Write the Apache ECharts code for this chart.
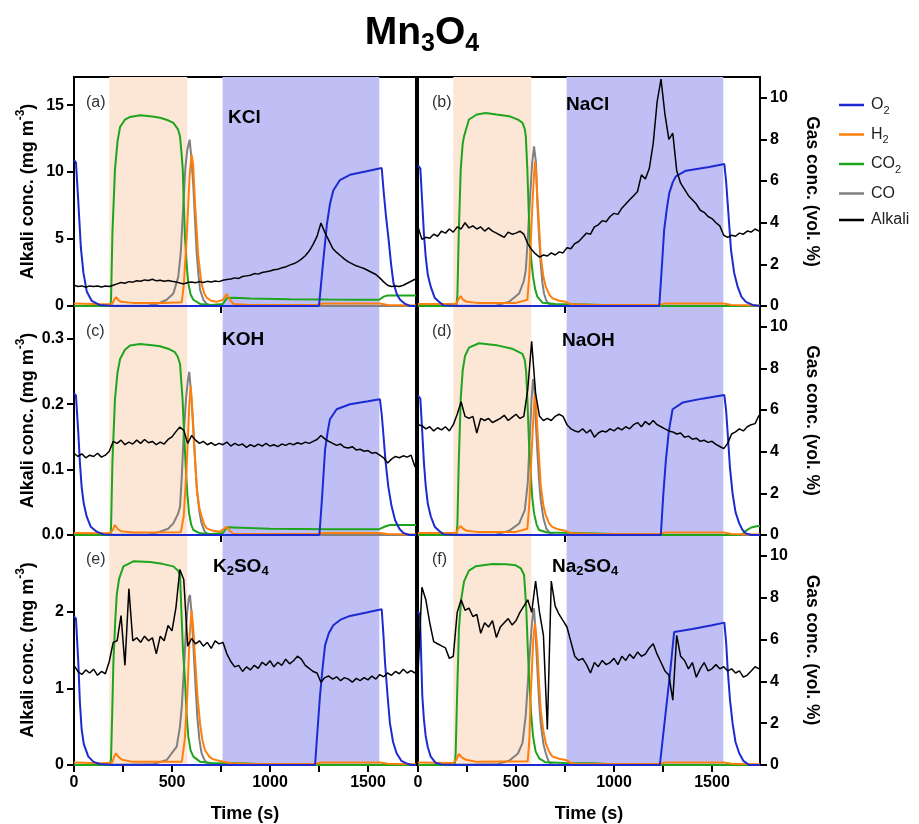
<!DOCTYPE html>
<html>
<head>
<meta charset="utf-8">
<script src="https://cdn.jsdelivr.net/npm/echarts@6/dist/echarts.min.js"></script>
<style>
html, body { margin: 0; padding: 0; background: #fff; }
#chart { width: 919px; height: 824px; }
</style>
</head>
<body>
<div id="chart"></div>
<script>
// ---- data ----
// phases (s)
const reducingPhase = [180, 578];
const oxidizingPhase = [758, 1558];

// alkali signal, one value every STEP seconds from t = 0
const STEP = 20;
const alkA = [1.55,1.45,1.5,1.4,1.5,1.45,1.5,1.42,1.5,1.45,
  1.55,1.65,1.75,1.7,1.82,1.78,1.88,1.85,1.95,1.9,
  2.0,1.88,1.92,1.85,1.9,1.84,1.8,1.72,1.65,1.75,
  1.8,1.74,1.82,1.76,1.84,1.8,1.86,1.82,1.92,1.98,
  2.02,2.1,2.06,2.2,2.25,2.3,2.42,2.38,2.5,2.55,
  2.62,2.7,2.74,2.85,2.92,3.05,3.15,3.3,3.5,3.75,
  4.1,4.6,5.2,6.2,5.5,4.9,4.3,4.0,3.75,3.5,
  3.3,3.15,3.0,2.9,2.8,2.65,2.5,2.35,2.1,1.8,
  1.55,1.45,1.5,1.45,1.55,1.7,1.85,2.0];
const alkB = [3.8,3.2,3.3,3.25,3.45,3.35,3.6,3.5,3.7,3.55,
  3.8,3.7,4.0,3.75,3.85,3.7,3.8,3.6,3.75,3.6,
  3.5,3.4,3.3,3.55,3.45,3.5,3.6,3.45,3.0,2.7,
  2.5,2.35,2.45,2.4,2.55,2.45,2.6,2.55,2.8,2.75,
  3.0,3.1,3.3,3.5,3.45,3.8,3.9,4.1,4.05,4.3,
  4.45,4.4,4.7,4.9,5.1,5.3,5.5,6.3,6.1,6.6,
  7.8,9.8,10.9,9.2,8.0,8.3,6.5,5.9,5.6,5.3,
  5.1,4.9,4.6,4.5,4.3,4.2,4.0,3.85,3.4,3.3,
  3.4,3.35,3.5,3.45,3.6,3.55,3.7,3.6];
const alkC = [0.125,0.12,0.124,0.118,0.122,0.12,0.125,0.119,0.122,0.128,
  0.143,0.14,0.145,0.138,0.142,0.139,0.145,0.14,0.146,0.141,
  0.143,0.138,0.142,0.139,0.146,0.15,0.158,0.165,0.16,0.14,
  0.152,0.145,0.14,0.143,0.138,0.141,0.137,0.14,0.138,0.142,
  0.136,0.14,0.137,0.139,0.134,0.138,0.135,0.139,0.136,0.14,
  0.136,0.138,0.135,0.139,0.137,0.14,0.138,0.141,0.139,0.142,
  0.14,0.143,0.146,0.152,0.147,0.143,0.14,0.137,0.139,0.134,
  0.133,0.135,0.13,0.131,0.128,0.129,0.125,0.126,0.122,0.118,
  0.11,0.116,0.12,0.118,0.121,0.119,0.122,0.104];
const alkD = [5.3,5.25,5.1,5.2,5.0,5.15,5.05,5.2,5.0,5.3,
  5.8,6.4,5.7,5.6,5.7,4.9,5.6,5.5,5.6,5.4,
  5.5,5.6,5.75,5.5,5.65,5.8,5.6,5.7,7.0,9.3,
  6.8,5.7,5.5,5.6,5.5,5.7,5.8,5.7,5.3,5.1,
  5.0,4.95,5.1,4.9,5.05,4.7,4.9,5.0,4.95,5.1,
  5.0,5.15,5.05,5.2,5.1,5.3,5.4,5.2,5.45,5.3,
  5.5,5.3,5.2,5.1,5.0,4.95,4.85,4.9,4.7,4.75,
  4.6,4.65,4.5,4.55,4.45,4.5,4.35,4.25,4.15,4.4,
  4.85,4.95,5.1,5.0,5.2,5.3,5.35,5.75];
const alkE = [1.3,1.22,1.18,1.24,1.2,1.25,1.17,1.22,1.19,1.35,
  1.6,1.62,1.95,1.3,2.3,1.62,1.66,1.6,1.68,1.62,
  1.66,1.45,1.68,1.62,1.82,1.75,2.05,2.55,2.42,1.55,
  1.65,1.58,1.62,1.55,1.6,1.52,1.62,1.58,1.6,1.45,
  1.35,1.28,1.3,1.22,1.28,1.24,1.3,1.26,1.34,1.3,
  1.36,1.28,1.34,1.3,1.38,1.32,1.36,1.42,1.38,1.3,
  1.26,1.22,1.2,1.08,1.14,1.16,1.12,1.15,1.1,1.14,
  1.12,1.08,1.13,1.1,1.14,1.11,1.16,1.12,1.18,1.15,
  1.2,1.17,1.22,1.19,1.25,1.2,1.23,1.2];
const alkF = [4.4,8.5,7.9,6.8,5.9,5.8,5.7,5.6,5.1,5.2,
  7.3,7.9,7.4,7.5,7.1,7.2,6.3,6.8,6.6,6.9,
  6.1,6.6,6.8,7.0,6.7,6.9,7.3,7.6,7.9,7.3,
  8.8,7.3,6.2,1.7,8.8,7.6,7.2,6.9,6.6,5.9,
  5.2,5.0,5.1,4.8,4.4,4.9,4.7,5.0,4.8,4.9,
  5.1,4.8,5.2,5.0,5.3,5.1,5.4,5.2,5.3,5.6,
  5.8,5.3,4.9,4.5,4.3,3.1,6.2,5.2,5.0,4.6,
  4.9,4.2,4.6,4.9,4.5,4.6,4.8,4.6,4.7,4.5,
  4.6,4.4,4.5,4.2,4.3,4.5,4.7,4.6];

// gas concentrations (vol. %), [time s, value]
const o2A = [[0,7.0],[10,6.9],[22,5.0],[35,2.8],[48,1.6],[65,0.7],[90,0.25],[130,0.05],[200,0],[1250,0],[1270,2.0],[1290,3.9],[1306,4.9],[1323,5.55],[1357,6.05],[1408,6.3],[1493,6.47],[1570,6.63],[1580,5.5],[1592,4.3],[1604,3.3],[1618,2.0],[1630,1.1],[1648,0.55],[1664,0.3],[1690,0.1],[1715,0],[1745,0]];
const h2A = [[0,0.12],[150,0.08],[195,0.1],[205,0.3],[214,0.42],[225,0.3],[240,0.2],[300,0.15],[450,0.14],[550,0.18],[560,1.0],[575,3.3],[590,6.3],[600,7.27],[608,6.8],[617,5.0],[634,2.4],[650,1.1],[665,0.6],[677,0.4],[700,0.25],[728,0.2],[760,0.3],[779,0.58],[795,0.3],[813,0.1],[900,0.05],[1240,0.05],[1270,0.12],[1560,0.12],[1600,0.05],[1745,0.03]];
const co2A = [[0,0],[185,0],[189,0.3],[196,3.5],[209,6.55],[222,7.9],[235,8.6],[260,8.95],[286,9.08],[337,9.16],[400,9.1],[439,9.04],[480,8.92],[507,8.8],[530,8.5],[541,8.15],[548,7.4],[555,6.55],[560,5.0],[566,3.34],[575,2.0],[583,1.1],[595,0.55],[609,0.3],[643,0.1],[700,0.05],[760,0.1],[780,0.38],[820,0.4],[900,0.36],[1100,0.33],[1300,0.31],[1450,0.3],[1557,0.3],[1580,0.45],[1600,0.5],[1745,0.5]];
const coA = [[0,0],[380,0.02],[430,0.12],[473,0.3],[507,0.6],[532,1.4],[545,2.6],[558,4.9],[568,6.6],[578,7.5],[590,7.99],[598,7.2],[609,5.74],[618,4.0],[626,2.55],[635,1.5],[643,0.78],[660,0.3],[677,0.1],[700,0],[1745,0]];

const o2B = [[0,6.76],[12,6.6],[22,4.9],[30,3.5],[39,2.4],[50,1.5],[65,0.93],[85,0.4],[107,0.2],[130,0.03],[200,0],[1231,0],[1245,2.0],[1256,3.66],[1270,4.7],[1282,5.42],[1300,5.95],[1316,6.23],[1367,6.5],[1486,6.68],[1563,6.82],[1572,6.0],[1580,4.94],[1597,2.7],[1613,1.6],[1631,0.93],[1650,0.45],[1673,0.2],[1707,0.05],[1745,0]];
const h2B = [[0,0.1],[195,0.1],[205,0.3],[218,0.48],[230,0.3],[250,0.2],[300,0.15],[500,0.15],[558,0.3],[568,1.5],[576,3.2],[584,4.94],[592,6.3],[597,6.95],[603,6.4],[609,5.26],[618,3.8],[626,2.38],[640,1.4],[652,0.93],[670,0.55],[686,0.37],[720,0.25],[754,0.2],[780,0.08],[900,0.05],[1230,0.05],[1260,0.12],[1560,0.12],[1600,0.05],[1745,0.03]];
const co2B = [[0,0],[196,0],[201,0.5],[208,3.5],[218,6.55],[228,7.8],[235,8.15],[260,8.96],[300,9.2],[346,9.27],[400,9.2],[465,9.12],[510,8.95],[533,8.8],[545,8.5],[550,8.15],[558,6.55],[564,4.8],[570,3.34],[578,2.2],[587,1.41],[598,0.8],[609,0.45],[635,0.16],[700,0.1],[800,0.08],[950,0.05],[1000,0],[1745,0]];
const coB = [[0,0],[400,0.03],[465,0.2],[516,0.6],[540,1.2],[550,1.73],[560,3.2],[570,4.94],[582,6.8],[592,7.67],[596,7.75],[602,6.9],[609,4.94],[618,3.3],[626,2.05],[635,1.1],[643,0.6],[655,0.25],[669,0.1],[700,0],[1745,0]];

const o2C = [[0,6.8],[10,6.7],[22,4.9],[30,3.5],[39,2.3],[50,1.5],[65,0.88],[85,0.4],[116,0.16],[150,0.03],[200,0],[1252,0],[1265,1.7],[1281,4.1],[1295,5.0],[1306,5.56],[1340,6.04],[1408,6.28],[1500,6.42],[1561,6.52],[1570,5.8],[1578,4.9],[1590,3.5],[1604,2.3],[1620,1.4],[1638,0.72],[1660,0.3],[1680,0.1],[1710,0],[1745,0]];
const h2C = [[0,0.1],[185,0.08],[198,0.25],[209,0.48],[222,0.3],[240,0.18],[300,0.12],[545,0.13],[560,0.9],[575,3.3],[588,6.2],[595,7.17],[602,6.3],[609,4.9],[620,3.2],[629,2.0],[640,1.3],[651,0.88],[665,0.5],[677,0.32],[710,0.2],[745,0.16],[765,0.3],[779,0.4],[795,0.2],[813,0.05],[1240,0.05],[1270,0.1],[1560,0.1],[1600,0.05],[1745,0.03]];
const co2C = [[0,0],[185,0],[189,0.3],[196,3.5],[209,6.52],[222,7.8],[235,8.45],[260,8.9],[286,9.1],[337,9.18],[400,9.12],[439,9.07],[480,8.95],[515,8.78],[530,8.55],[541,8.21],[548,7.3],[554,6.52],[562,4.8],[570,3.3],[578,2.0],[587,1.05],[598,0.5],[609,0.24],[643,0.08],[700,0.05],[760,0.1],[780,0.37],[850,0.35],[1000,0.3],[1300,0.28],[1557,0.28],[1590,0.42],[1612,0.48],[1745,0.48]];
const coC = [[0,0],[380,0.03],[439,0.16],[480,0.3],[507,0.56],[530,1.0],[541,1.37],[550,2.8],[560,4.9],[572,6.6],[582,7.5],[588,7.84],[596,7.0],[609,5.2],[618,3.6],[626,2.3],[640,1.1],[651,0.56],[665,0.2],[677,0.08],[700,0],[1745,0]];

const o2D = [[0,6.7],[12,6.55],[22,4.9],[30,3.5],[39,2.4],[50,1.5],[65,0.9],[85,0.4],[107,0.2],[130,0.03],[200,0],[1239,0],[1252,2.0],[1265,3.62],[1280,5.0],[1299,6.04],[1350,6.36],[1450,6.55],[1563,6.72],[1572,6.0],[1580,4.9],[1592,3.2],[1605,2.0],[1620,1.1],[1639,0.56],[1655,0.25],[1673,0.08],[1700,0],[1745,0]];
const h2D = [[0,0.1],[195,0.1],[205,0.3],[218,0.43],[230,0.3],[250,0.2],[300,0.15],[500,0.15],[558,0.3],[568,1.5],[576,3.2],[584,4.8],[592,6.2],[597,6.77],[603,6.2],[609,5.1],[618,3.7],[626,2.4],[640,1.4],[652,0.95],[670,0.55],[686,0.38],[720,0.26],[754,0.2],[780,0.08],[900,0.05],[1230,0.05],[1260,0.12],[1560,0.12],[1600,0.05],[1745,0.03]];
const co2D = [[0,0],[196,0],[201,0.5],[208,3.5],[218,6.55],[228,7.9],[240,8.6],[260,9.0],[311,9.21],[400,9.12],[480,8.95],[533,8.7],[545,8.4],[552,7.8],[558,6.55],[566,4.5],[575,3.0],[583,1.8],[592,1.05],[605,0.5],[618,0.24],[660,0.12],[800,0.1],[1000,0.05],[1050,0],[1640,0],[1656,0.05],[1680,0.25],[1700,0.36],[1733,0.43],[1745,0.43]];
const coD = [[0,0],[400,0.03],[465,0.2],[516,0.55],[545,1.2],[560,2.5],[570,4.6],[580,6.6],[587,7.49],[593,7.2],[600,5.6],[609,4.0],[618,2.6],[626,1.7],[640,0.8],[655,0.3],[675,0.08],[700,0],[1745,0]];

const o2E = [[0,7.1],[10,7.0],[22,4.9],[30,3.0],[39,1.7],[50,1.0],[73,0.4],[100,0.15],[130,0.05],[200,0],[1230,0],[1242,1.6],[1255,3.3],[1268,4.6],[1281,5.72],[1300,6.3],[1323,6.68],[1360,6.95],[1408,7.13],[1493,7.29],[1570,7.45],[1579,6.2],[1587,4.9],[1600,3.3],[1612,2.0],[1628,1.1],[1646,0.56],[1670,0.2],[1697,0.08],[1720,0],[1745,0]];
const h2E = [[0,0.12],[150,0.08],[195,0.12],[205,0.4],[214,0.56],[225,0.4],[245,0.25],[300,0.15],[550,0.15],[565,1.2],[578,3.3],[590,6.2],[600,7.4],[608,6.6],[617,5.2],[630,3.3],[643,2.0],[655,1.2],[668,0.72],[690,0.4],[711,0.27],[762,0.16],[800,0.08],[900,0.05],[1230,0.05],[1260,0.12],[1560,0.12],[1600,0.06],[1745,0.03]];
const co2E = [[0,0],[185,0],[189,0.3],[195,2.5],[201,4.9],[210,6.8],[218,8.13],[230,8.9],[252,9.5],[303,9.74],[388,9.71],[450,9.62],[507,9.5],[530,9.3],[541,9.1],[548,7.33],[556,5.5],[566,4.1],[575,2.4],[583,1.37],[595,0.7],[609,0.4],[643,0.16],[700,0.1],[850,0.08],[949,0.05],[1000,0],[1745,0]];
const coE = [[0,0],[400,0.03],[473,0.24],[524,0.88],[540,1.8],[550,2.8],[558,4.1],[570,6.2],[578,7.33],[586,8.0],[592,8.13],[600,7.2],[609,5.72],[620,3.8],[629,2.3],[640,1.2],[651,0.56],[668,0.2],[685,0.05],[700,0],[1745,0]];

const o2F = [[0,7.33],[10,7.2],[22,3.3],[30,2.2],[39,1.4],[50,0.85],[65,0.4],[90,0.1],[120,0.02],[200,0],[1234,0],[1260,2.2],[1285,4.3],[1307,6.36],[1400,6.5],[1500,6.68],[1563,6.81],[1572,5.9],[1580,4.6],[1592,3.1],[1605,2.0],[1620,1.1],[1639,0.56],[1660,0.2],[1690,0],[1745,0]];
const h2F = [[0,0.12],[180,0.1],[195,0.25],[209,0.53],[222,0.38],[245,0.25],[300,0.15],[560,0.18],[568,1.2],[575,3.3],[588,6.0],[597,6.77],[603,6.2],[609,5.56],[617,4.0],[626,2.66],[640,1.6],[652,1.05],[668,0.65],[686,0.4],[720,0.3],[754,0.24],[780,0.1],[805,0.05],[1234,0.05],[1260,0.12],[1560,0.12],[1600,0.06],[1745,0.03]];
const co2F = [[0,0],[187,0],[192,0.5],[200,3.5],[209,6.52],[220,7.9],[235,8.78],[260,9.3],[294,9.5],[380,9.61],[450,9.6],[499,9.55],[525,9.4],[541,9.1],[547,8.3],[553,7.33],[560,5.6],[567,4.1],[577,2.5],[587,1.37],[600,0.65],[618,0.32],[652,0.13],[750,0.1],[900,0.08],[970,0.05],[1000,0],[1745,0]];
const coF = [[0,0],[400,0.03],[465,0.2],[510,0.55],[533,1.05],[550,2.4],[567,4.9],[580,6.6],[587,7.33],[592,7.49],[598,6.6],[609,4.6],[618,3.0],[626,2.0],[640,1.0],[652,0.56],[665,0.2],[677,0.05],[700,0],[1745,0]];

const salts = ['KCl', 'NaCl', 'KOH', 'NaOH', 'K2SO4', 'Na2SO4'];
const panelTags = ['(a)', '(b)', '(c)', '(d)', '(e)', '(f)'];
const alkaliMax = [17.1, 11, 0.35, 11, 3, 11];   // left axis range (right column: hidden)
const alkaliStep = [5, 2, 0.1, 2, 1, 2];

// ---- layout / style ----
const FONT = "'Liberation Sans', Arial, sans-serif";
const COLORS = { O2: '#1c2bd1', H2: '#ff7f0e', CO2: '#1ea51e', CO: '#808080', Alkali: '#000000' };
const panels = [
  { o2: o2A, h2: h2A, co2: co2A, co: coA, alk: alkA, left: 74,  top: 77,  height: 229, col: 0, row: 0 },
  { o2: o2B, h2: h2B, co2: co2B, co: coB, alk: alkB, left: 418, top: 77,  height: 229, col: 1, row: 0 },
  { o2: o2C, h2: h2C, co2: co2C, co: coC, alk: alkC, left: 74,  top: 306, height: 229, col: 0, row: 1 },
  { o2: o2D, h2: h2D, co2: co2D, co: coD, alk: alkD, left: 418, top: 306, height: 229, col: 1, row: 1 },
  { o2: o2E, h2: h2E, co2: co2E, co: coE, alk: alkE, left: 74,  top: 535, height: 230, col: 0, row: 2 },
  { o2: o2F, h2: h2F, co2: co2F, co: coF, alk: alkF, left: 418, top: 535, height: 230, col: 1, row: 2 },
];
const tagPos = [[86, 95], [432, 95], [86, 324], [432, 324], [86, 552], [432, 552]];
const saltPos = [[228, 108], [566, 95], [222, 330], [562, 331], [213, 557], [552, 557]];

const labelStyle = { color: '#000', fontWeight: 'bold', fontSize: 16, fontFamily: FONT };
const tickStyle = { show: true, length: 7, lineStyle: { color: '#000', width: 2 } };

const grids = [], xAxes = [], yAxes = [], series = [];
panels.forEach((p, i) => {
    grids.push({ left: p.left, top: p.top, width: 342, height: p.height, show: true,
        borderColor: '#000', borderWidth: 2, backgroundColor: 'transparent' });
    const bottom = p.row === 2;
    xAxes.push({
        gridIndex: i, type: 'value', min: 0, max: 1745, interval: 250,
        axisLine: { show: false }, splitLine: { show: false }, axisTick: tickStyle,
        axisLabel: Object.assign({ show: bottom, margin: 10, showMaxLabel: false,
            formatter: v => (v % 500 === 0 ? String(v) : '') }, labelStyle),
        name: bottom ? 'Time (s)' : '', nameLocation: 'middle', nameGap: 40,
        nameTextStyle: { color: '#000', fontWeight: 'bold', fontSize: 18, fontFamily: FONT }
    });
    const leftCol = p.col === 0;
    yAxes.push({
        gridIndex: i, type: 'value', position: 'left', min: 0, max: alkaliMax[i], interval: alkaliStep[i],
        show: leftCol,
        axisLine: { show: false }, splitLine: { show: false }, axisTick: tickStyle,
        axisLabel: Object.assign({ margin: 10, showMaxLabel: false,
            formatter: v => (alkaliStep[i] < 1 ? v.toFixed(1) : String(v)) }, labelStyle),
        name: '{t|Alkali conc. (mg m}{p|-3}{t|)}', nameLocation: 'middle', nameRotate: 90, nameGap: 33,
        nameTextStyle: { rich: {
            t: { fontSize: 18, fontWeight: 'bold', fontFamily: FONT, color: '#000', lineHeight: 26 },
            p: { fontSize: 12, fontWeight: 'bold', fontFamily: FONT, color: '#000', lineHeight: 12, verticalAlign: 'top' }
        } }
    });
    yAxes.push({
        gridIndex: i, type: 'value', position: 'right', min: 0, max: 11, interval: 2,
        show: !leftCol,
        axisLine: { show: false }, splitLine: { show: false }, axisTick: tickStyle,
        axisLabel: Object.assign({ margin: 10, showMaxLabel: false }, labelStyle),
        name: 'Gas conc. (vol. %)', nameLocation: 'middle', nameRotate: -90, nameGap: 43,
        nameTextStyle: { color: '#000', fontWeight: 'bold', fontSize: 17.5, fontFamily: FONT }
    });

    const gas = (name, data) => ({
        name, type: 'line', xAxisIndex: i, yAxisIndex: 2 * i + 1, data,
        showSymbol: false, symbol: 'none', silent: true, z: 2,
        lineStyle: { color: COLORS[name], width: 2 }, itemStyle: { color: COLORS[name] }
    });
    series.push(gas('CO', p.co));
    series.push(gas('CO2', p.co2));
    series.push(gas('H2', p.h2));
    series.push(gas('O2', p.o2));
    series.push({
        name: 'Alkali', type: 'line', xAxisIndex: i, yAxisIndex: 2 * i,
        data: p.alk.map((v, k) => [k * STEP, v]),
        showSymbol: false, symbol: 'none', silent: true, z: 3,
        lineStyle: { color: '#000', width: 1.5 }, itemStyle: { color: '#000' },
        markArea: {
            silent: true,
            data: [
                [{ xAxis: reducingPhase[0], itemStyle: { color: '#fce6d6' } }, { xAxis: reducingPhase[1] }],
                [{ xAxis: oxidizingPhase[0], itemStyle: { color: '#bfbff5' } }, { xAxis: oxidizingPhase[1] }]
            ]
        }
    });
});

const subRich = (size, sub, weight) => ({
    m: { fontSize: size, fontWeight: weight, fontFamily: FONT, color: '#000', lineHeight: Math.round(size * 1.2) },
    s: { fontSize: sub, fontWeight: weight, fontFamily: FONT, color: '#000', lineHeight: sub, verticalAlign: 'bottom' }
});
const withSubs = s => s.replace(/([A-Za-z]+)|(\d+)/g, (m, a, d) => (a ? '{m|' + a + '}' : '{s|' + d + '}'));

const graphic = [];
panels.forEach((p, i) => {
    graphic.push({ type: 'text', left: tagPos[i][0], top: tagPos[i][1], silent: true, z: 100,
        style: { text: panelTags[i], font: '16px ' + FONT, fill: '#333' } });
    graphic.push({ type: 'text', left: saltPos[i][0], top: saltPos[i][1], silent: true, z: 100,
        style: { text: withSubs(salts[i]), rich: subRich(19, 13, 'bold') } });
});

const legendNames = { O2: 'O2', H2: 'H2', CO2: 'CO2', CO: 'CO', Alkali: 'Alkali' };

const chart = echarts.init(document.getElementById('chart'), null, { renderer: 'canvas' });
chart.setOption({
    animation: false,
    backgroundColor: '#fff',
    title: {
        text: withSubs('Mn3O4'), left: 417, top: 5, textAlign: 'center',
        textStyle: { rich: subRich(39, 25, 'bold') }
    },
    legend: {
        data: ['O2', 'H2', 'CO2', 'CO', 'Alkali'], orient: 'vertical', left: 834, top: 92,
        icon: 'rect', itemWidth: 25, itemHeight: 2.5, itemGap: 10.5, selectedMode: false,
        formatter: n => withSubs(legendNames[n]).replace('{m|', '{f|'),
        textStyle: { rich: {
            f: { fontSize: 16, fontFamily: FONT, color: '#222', lineHeight: 22, padding: [0, 0, 0, 2] },
            m: { fontSize: 16, fontFamily: FONT, color: '#222', lineHeight: 22 },
            s: { fontSize: 11, fontFamily: FONT, color: '#222', lineHeight: 11, verticalAlign: 'bottom' }
        } }
    },
    grid: grids,
    xAxis: xAxes,
    yAxis: yAxes,
    series,
    graphic
});
window.addEventListener('resize', () => chart.resize());
</script>
</body>
</html>
